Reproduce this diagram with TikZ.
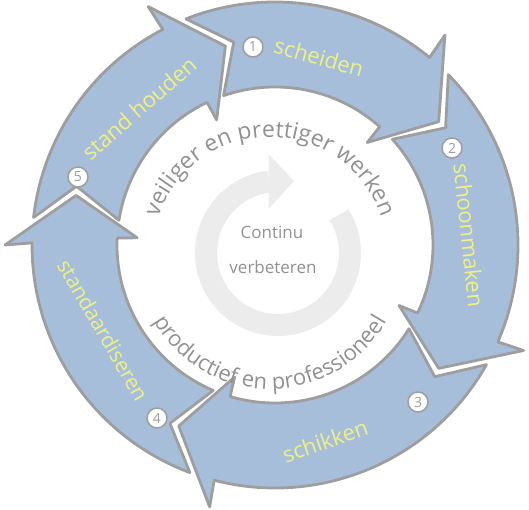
\documentclass[tikz,border=0pt]{standalone}
\usepackage{fontspec}
\setmainfont{Open Sans}
\usepackage{tikz}
\usepackage{xcolor}
\usetikzlibrary{calc,decorations.text}
\definecolor{arrowblue}{RGB}{167,190,219}
\definecolor{edgegray}{RGB}{158,158,158}
\definecolor{labelyellow}{RGB}{238,240,130}
\definecolor{textgray}{RGB}{145,145,145}
\definecolor{ringgray}{RGB}{236,236,236}

\begin{document}
\begin{tikzpicture}[x=1pt,y=1pt]
	\tikzstyle{band}=[fill=arrowblue,draw=edgegray,line width=2.8pt,line join=round]
	\tikzstyle{steplabel}=[text=labelyellow,font=\fontsize{22}{22}\selectfont,inner sep=0pt]
	\tikzstyle{num}=[circle,draw=edgegray,fill=white,line width=1.5pt,minimum size=20pt,inner sep=0pt,text=edgegray,font=\fontsize{14}{14}\selectfont]
	\tikzstyle{midtext}=[text=textgray,font=\fontsize{17}{17}\selectfont,inner sep=0pt]
	\useasboundingbox (-275,-265) rectangle (254,245);
	\coordinate (mid) at (3,-8);
	\coordinate (txt) at (-5,-10);
	% five arrows round the ring
	\foreach \p/\h in {118/51,51/-23,-23/-104,-104/-180,-180/-242}{
		\filldraw[band] (\p-6.5:243) arc[start angle=\p-6.5,end angle=\h-0.5,radius=243pt]
			-- (\h:270) -- (\h-14:205) -- (\h-3:138) -- (\h-2.5:158)
			arc[start angle=\h-2.5,end angle=\p-9,radius=158pt] -- (\p-16.5:207) -- cycle;
	}
	% grey circle arrow in the middle
	\draw[ringgray,line width=22pt] ($(mid)+(32:72)$) arc[start angle=32,end angle=-263,radius=72pt];
	\fill[ringgray] ($(mid)+(-9.5,44)$) -- ($(mid)+(-9.5,99)$) -- ($(mid)+(16,72)$) -- cycle;
	\node[midtext] (cont) at (-3,13) {Continu};
	\node[midtext] (verb) at (-2,-22) {verbeteren};
	% curved texts
	\path[decorate,decoration={text along path,text align=center,
		text={|\fontsize{23}{23}\selectfont\color{textgray}|veiliger en prettiger werken}}]
		($(txt)+(163:118)$) arc[start angle=163,end angle=17,radius=118pt];
	\path[decorate,decoration={text along path,text align=center,
		text={|\fontsize{22}{22}\selectfont\color{textgray}|productief en professioneel}}]
		($(txt)+(198:134)$) arc[start angle=198,end angle=342,radius=134pt];
	% step labels
	\node[steplabel,rotate=-16] (scheiden) at (44,188) {scheiden};
	\node[steplabel,rotate=-84] (schoon) at (194,10) {schoonmaken};
	\node[steplabel,rotate=19] (schikken) at (50,-196) {schikken};
	\node[steplabel,rotate=-60,font=\fontsize{21}{21}\selectfont] (standaard) at (-172,-85) {standaardiseren};
	\node[steplabel,rotate=41] (stand) at (-136,137) {stand houden};
	\node[num] (n1) at (-22,198) {1};
	\node[num] (n2) at (177,97) {2};
	\node[num] (n3) at (143,-157) {3};
	\node[num] (n4) at (-118,-173) {4};
	\node[num] (n5) at (-197,68) {5};
\end{tikzpicture}
\end{document}
